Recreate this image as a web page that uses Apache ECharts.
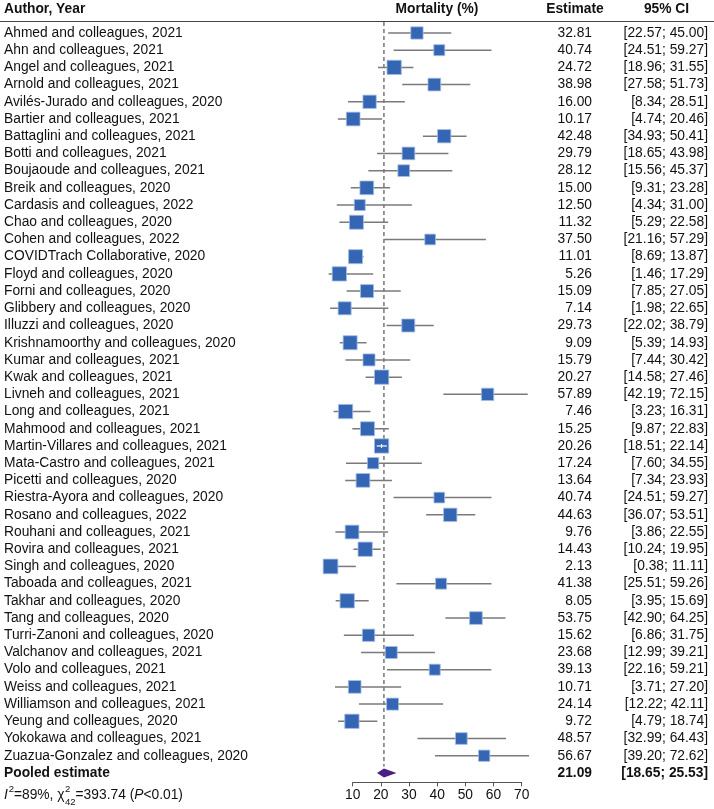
<!DOCTYPE html>
<html>
<head>
<meta charset="utf-8">
<script src="https://cdn.jsdelivr.net/npm/echarts@6/dist/echarts.min.js"></script>
<style>
  html, body { margin: 0; padding: 0; background: #fff; }
  #forest { width: 714px; height: 809px; }
</style>
</head>
<body>
<div id="forest"></div>
<script>
// study rows
var authors = [
  'Ahmed and colleagues, 2021', 'Ahn and colleagues, 2021', 'Angel and colleagues, 2021',
  'Arnold and colleagues, 2021', 'Avilés-Jurado and colleagues, 2020', 'Bartier and colleagues, 2021',
  'Battaglini and colleagues, 2021', 'Botti and colleagues, 2021', 'Boujaoude and colleagues, 2021',
  'Breik and colleagues, 2020', 'Cardasis and colleagues, 2022', 'Chao and colleagues, 2020',
  'Cohen and colleagues, 2022', 'COVIDTrach Collaborative, 2020', 'Floyd and colleagues, 2020',
  'Forni and colleagues, 2020', 'Glibbery and colleagues, 2020', 'Illuzzi and colleagues, 2020',
  'Krishnamoorthy and colleagues, 2020', 'Kumar and colleagues, 2021', 'Kwak and colleagues, 2021',
  'Livneh and colleagues, 2021', 'Long and colleagues, 2021', 'Mahmood and colleagues, 2021',
  'Martin-Villares and colleagues, 2021', 'Mata-Castro and colleagues, 2021', 'Picetti and colleagues, 2020',
  'Riestra-Ayora and colleagues, 2020', 'Rosano and colleagues, 2022', 'Rouhani and colleagues, 2021',
  'Rovira and colleagues, 2021', 'Singh and colleagues, 2020', 'Taboada and colleagues, 2021',
  'Takhar and colleagues, 2020', 'Tang and colleagues, 2020', 'Turri-Zanoni and colleagues, 2020',
  'Valchanov and colleagues, 2021', 'Volo and colleagues, 2021', 'Weiss and colleagues, 2021',
  'Williamson and colleagues, 2021', 'Yeung and colleagues, 2020', 'Yokokawa and colleagues, 2021',
  'Zuazua-Gonzalez and colleagues, 2020'
];
var estimate = [32.81, 40.74, 24.72, 38.98, 16.00, 10.17, 42.48, 29.79, 28.12, 15.00, 12.50, 11.32,
  37.50, 11.01, 5.26, 15.09, 7.14, 29.73, 9.09, 15.79, 20.27, 57.89, 7.46, 15.25, 20.26, 17.24,
  13.64, 40.74, 44.63, 9.76, 14.43, 2.13, 41.38, 8.05, 53.75, 15.62, 23.68, 39.13, 10.71, 24.14,
  9.72, 48.57, 56.67];
var lower = [22.57, 24.51, 18.96, 27.58, 8.34, 4.74, 34.93, 18.65, 15.56, 9.31, 4.34, 5.29,
  21.16, 8.69, 1.46, 7.85, 1.98, 22.02, 5.39, 7.44, 14.58, 42.19, 3.23, 9.87, 18.51, 7.60,
  7.34, 24.51, 36.07, 3.86, 10.24, 0.38, 25.51, 3.95, 42.90, 6.86, 12.99, 22.16, 3.71, 12.22,
  4.79, 32.99, 39.20];
var upper = [45.00, 59.27, 31.55, 51.73, 28.51, 20.46, 50.41, 43.98, 45.37, 23.28, 31.00, 22.58,
  57.29, 13.87, 17.29, 27.05, 22.65, 38.79, 14.93, 30.42, 27.46, 72.15, 16.31, 22.83, 22.14, 34.55,
  23.93, 59.27, 53.51, 22.55, 19.95, 11.11, 59.26, 15.69, 64.25, 31.75, 39.21, 59.21, 27.20, 42.11,
  18.74, 64.43, 72.62];
// study weights (%) read from the square areas
var weight = [2.10, 1.68, 2.84, 2.24, 2.46, 2.61, 2.46, 2.24, 1.90, 2.61, 1.68, 2.72, 1.59, 2.72,
  2.84, 2.35, 2.35, 2.35, 2.72, 2.00, 2.84, 2.10, 2.84, 2.72, 2.84, 1.77, 2.61, 1.59, 2.46, 2.61,
  2.84, 3.00, 1.68, 2.84, 2.24, 2.10, 2.00, 1.68, 2.24, 2.00, 2.84, 1.90, 1.77];

// pooled estimate
var pooledEst = 21.09;
var pooledLower = 18.65;
var pooledUpper = 25.53;

var FONT = "'Liberation Sans', Arial, Helvetica, sans-serif";
var FS = 13.8;
var colEst = 592;   // right edge of estimate column
var colCI = 708;    // right edge of CI column

function ci(lo, hi) {
  return '[' + lo.toFixed(2) + '; ' + hi.toFixed(2) + ']';
}

var chart = echarts.init(document.getElementById('forest'));

// measure text for the heterogeneity line
var ctx = document.createElement('canvas').getContext('2d');
function tw(txt, font) { ctx.font = font; return ctx.measureText(txt).width; }

var het = [];
(function () {
  var reg = FS + 'px ' + FONT;
  var ita = 'italic ' + FS + 'px ' + FONT;
  var sm = '9.5px ' + FONT;
  var y = 795, x = 4;
  function put(t, font, dy) {
    het.push({ type: 'text', x: x, y: y + (dy || 0),
      style: { text: t, font: font, fill: '#111', verticalAlign: 'middle' } });
  }
  put('I', ita); x += tw('I', ita) + 0.8;
  put('2', sm, -5.5); x += tw('2', sm);
  put('=89%, \u03c7', reg); x += tw('=89%, \u03c7', reg) + 0.5;
  put('2', sm, -5.5);
  put('42', sm, 7);
  x += tw('42', sm);
  put('=393.74 (', reg); x += tw('=393.74 (', reg);
  put('P', ita); x += tw('P', ita);
  put('<0.01)', reg);
})();

var option = {
  animation: false,
  grid: { left: 352.7, right: 192.3, top: 23.5, bottom: 26.6 },
  xAxis: {
    type: 'value', min: 10, max: 70, interval: 10,
    splitLine: { show: false },
    axisLine: { show: true, onZero: false, lineStyle: { color: '#555', width: 1 } },
    axisTick: { show: true, length: 4, lineStyle: { color: '#555' } },
    axisLabel: { color: '#111', fontSize: FS, fontFamily: FONT, margin: 6 }
  },
  yAxis: {
    type: 'value', min: -0.55, max: 43.55, inverse: true, show: false
  },
  graphic: [
    { type: 'line', shape: { x1: 0, y1: 21.5, x2: 714, y2: 21.5 }, style: { stroke: '#444', lineWidth: 1 } },
    { type: 'text', x: 4, y: 9.5, style: { text: 'Author, Year', font: 'bold ' + FS + 'px ' + FONT, fill: '#111', verticalAlign: 'middle' } },
    { type: 'text', x: 437, y: 9.5, style: { text: 'Mortality (%)', font: 'bold ' + FS + 'px ' + FONT, fill: '#111', align: 'center', verticalAlign: 'middle' } },
    { type: 'text', x: 575, y: 9.5, style: { text: 'Estimate', font: 'bold ' + FS + 'px ' + FONT, fill: '#111', align: 'center', verticalAlign: 'middle' } },
    { type: 'text', x: 666.5, y: 9.5, style: { text: '95% CI', font: 'bold ' + FS + 'px ' + FONT, fill: '#111', align: 'center', verticalAlign: 'middle' } }
  ].concat(het),
  series: [
    {
      // dashed reference line + pooled diamond
      type: 'custom',
      z: 1,
      data: [[43, pooledEst, pooledLower, pooledUpper]],
      renderItem: function (params, api) {
        var row = api.value(0);
        var xe = api.coord([api.value(1), row])[0];
        var xl = api.coord([api.value(2), row])[0];
        var xh = api.coord([api.value(3), row])[0];
        var y = api.coord([10, row])[1];
        var yTop = api.coord([10, -0.64])[1];
        var yEnd = api.coord([10, 42.62])[1];
        var h = 4.5;
        return {
          type: 'group',
          children: [
            { type: 'line', shape: { x1: xe, y1: yTop, x2: xe, y2: yEnd },
              style: { stroke: '#555', lineWidth: 1.2, lineDash: [4, 3] } },
            { type: 'polygon', shape: { points: [[xl, y], [xe, y - h], [xh, y], [xe, y + h]] },
              style: { fill: '#4a1f86' } },
            { type: 'text', x: 4, y: y, style: { text: 'Pooled estimate', font: 'bold ' + FS + 'px ' + FONT, fill: '#111', verticalAlign: 'middle' } },
            { type: 'text', x: colEst, y: y, style: { text: api.value(1).toFixed(2), font: 'bold ' + FS + 'px ' + FONT, fill: '#111', align: 'right', verticalAlign: 'middle' } },
            { type: 'text', x: colCI, y: y, style: { text: ci(api.value(2), api.value(3)), font: 'bold ' + FS + 'px ' + FONT, fill: '#111', align: 'right', verticalAlign: 'middle' } }
          ]
        };
      }
    },
    {
      // studies: CI line, weighted square, text columns
      type: 'custom',
      z: 2,
      data: authors.map(function (a, i) { return [i, estimate[i], lower[i], upper[i], weight[i]]; }),
      renderItem: function (params, api) {
        var row = api.value(0);
        var e = api.value(1), lo = api.value(2), hi = api.value(3);
        var xe = api.coord([e, row])[0];
        var xl = api.coord([lo, row])[0];
        var xh = api.coord([hi, row])[0];
        var y = api.coord([10, row])[1];
        var s = 8.48 * Math.sqrt(api.value(4));
        var kids = [
          { type: 'line', shape: { x1: xl, y1: y, x2: xh, y2: y }, style: { stroke: '#7a7a7a', lineWidth: 1.5 } },
          { type: 'rect', shape: { x: xe - s / 2, y: y - s / 2, width: s, height: s },
            style: { fill: '#3466b3', stroke: '#a3bde6', lineWidth: 0.8 } }
        ];
        // CI inside the square: draw it in white
        if (xl > xe - s / 2 && xh < xe + s / 2) {
          kids.push({ type: 'line', shape: { x1: xl, y1: y, x2: xh, y2: y }, style: { stroke: '#fff', lineWidth: 1.2 } });
          kids.push({ type: 'line', shape: { x1: xe, y1: y - 2, x2: xe, y2: y + 2 }, style: { stroke: '#fff', lineWidth: 1 } });
        }
        kids.push({ type: 'text', x: 4, y: y, style: { text: authors[params.dataIndex], font: FS + 'px ' + FONT, fill: '#111', verticalAlign: 'middle' } });
        kids.push({ type: 'text', x: colEst, y: y, style: { text: e.toFixed(2), font: FS + 'px ' + FONT, fill: '#111', align: 'right', verticalAlign: 'middle' } });
        kids.push({ type: 'text', x: colCI, y: y, style: { text: ci(lo, hi), font: FS + 'px ' + FONT, fill: '#111', align: 'right', verticalAlign: 'middle' } });
        return { type: 'group', children: kids };
      }
    }
  ]
};
chart.setOption(option);
</script>
</body>
</html>
